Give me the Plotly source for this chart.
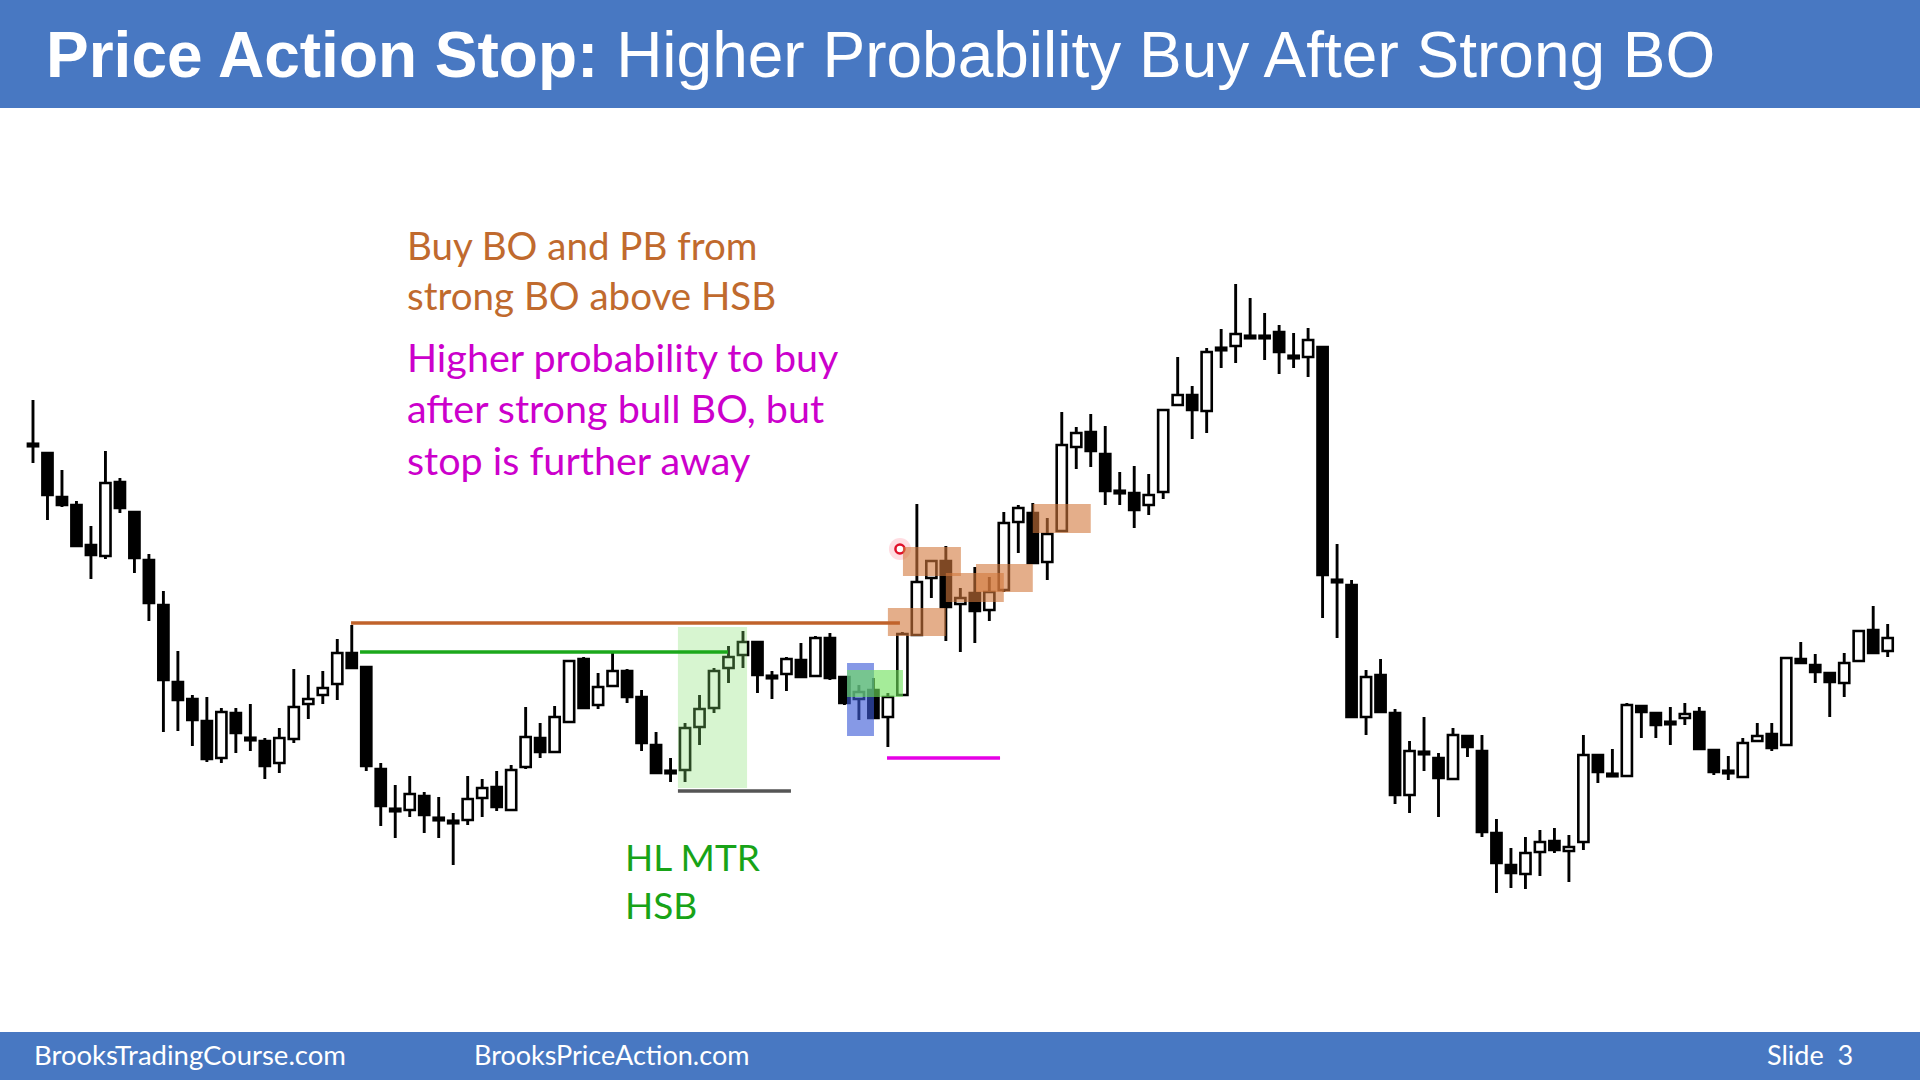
import plotly.graph_objects as go

# ---- OHLC data (arbitrary price units) ----
opens = [555, 547, 503, 495, 455, 444, 518, 488, 440, 395, 318, 301, 279, 242, 287, 261, 259, 237, 261, 296,
         305, 316, 347, 333, 231, 190, 190, 204, 181, 178, 180, 202, 213, 190, 233, 262, 248, 278, 341, 295,
         314, 329, 303, 255, 228, 230, 273, 292, 332, 345, 358, 323, 326, 340, 324, 362, 323, 301, 310, 283,
         305, 365, 422, 439, 396, 407, 390, 410, 478, 487, 438, 469, 553, 568, 546, 508, 507, 495, 508, 595,
         605, 589, 651, 654, 663, 663, 668, 643, 643, 653, 419, 415, 283, 325, 287, 205, 247, 242, 221, 264,
         249, 167, 135, 126, 148, 159, 149, 158, 245, 225, 224, 294, 287, 277, 282, 288, 250, 228, 223, 259,
         266, 255, 341, 335, 327, 317, 339, 370, 349]
highs = [600, 547, 530, 499, 474, 549, 522, 488, 446, 409, 349, 305, 303, 292, 292, 296, 262, 272, 331, 325,
         329, 361, 375, 333, 237, 215, 224, 208, 203, 187, 224, 221, 229, 235, 293, 277, 294, 340, 343, 327,
         347, 331, 310, 268, 242, 277, 305, 332, 354, 369, 358, 329, 343, 357, 364, 367, 324, 315, 322, 307,
         368, 496, 440, 454, 412, 433, 423, 488, 495, 497, 482, 588, 573, 586, 574, 528, 534, 526, 590, 643,
         614, 652, 671, 716, 702, 687, 675, 667, 672, 653, 456, 420, 330, 341, 291, 259, 283, 247, 272, 264,
         265, 181, 152, 163, 170, 172, 165, 265, 245, 251, 297, 294, 287, 293, 297, 293, 250, 244, 262, 277,
         277, 342, 358, 346, 327, 347, 370, 394, 376]
lows = [537, 480, 493, 454, 421, 441, 487, 427, 379, 268, 269, 254, 238, 237, 247, 249, 221, 227, 257, 281,
        296, 300, 331, 229, 174, 162, 183, 167, 162, 135, 175, 183, 189, 189, 231, 242, 248, 278, 291, 291,
        313, 297, 249, 226, 218, 218, 255, 287, 317, 332, 307, 301, 309, 323, 323, 320, 295, 280, 282, 253,
        304, 365, 402, 359, 348, 357, 379, 408, 447, 437, 420, 469, 531, 533, 495, 495, 472, 485, 501, 594,
        561, 567, 632, 637, 663, 640, 626, 632, 623, 382, 362, 282, 265, 287, 196, 187, 229, 183, 220, 243,
        163, 107, 112, 111, 124, 147, 118, 150, 217, 223, 223, 262, 262, 255, 275, 251, 225, 220, 222, 258,
        249, 254, 337, 317, 283, 303, 338, 347, 343]
closes = [555, 505, 495, 454, 445, 517, 492, 442, 397, 320, 300, 280, 241, 288, 267, 261, 234, 262, 293, 301,
          312, 347, 332, 234, 194, 190, 206, 185, 181, 178, 201, 212, 193, 230, 263, 248, 283, 339, 292, 313,
          329, 303, 257, 227, 228, 272, 291, 329, 343, 358, 325, 323, 341, 323, 362, 322, 297, 308, 282, 303,
          366, 418, 439, 393, 402, 389, 408, 477, 492, 437, 466, 555, 567, 549, 509, 508, 490, 505, 590, 605,
          590, 648, 651, 666, 663, 663, 648, 643, 660, 425, 419, 283, 323, 288, 205, 249, 247, 222, 265, 253,
          168, 137, 127, 147, 158, 150, 153, 245, 228, 225, 295, 288, 275, 277, 286, 251, 228, 228, 257, 264,
          252, 342, 337, 328, 318, 337, 369, 347, 362]

bar_index = list(range(len(opens)))

# ---- derived drawing values ----
MIN_BODY = 2.5
body_base, body_height, body_color = [], [], []
for o, c in zip(opens, closes):
    lo, hi = min(o, c), max(o, c)
    h = hi - lo
    if h < MIN_BODY:
        mid = (lo + hi) / 2
        lo, h = mid - MIN_BODY / 2, MIN_BODY
    body_base.append(lo)
    body_height.append(h)
    body_color.append("white" if c > o else "black")

wick_height = [h - l for h, l in zip(highs, lows)]

fig = go.Figure()

# wicks
fig.add_trace(go.Bar(
    x=bar_index, y=wick_height, base=lows, width=0.2,
    marker=dict(color="black", line=dict(width=0)),
    hoverinfo="skip", showlegend=False))

# bodies
fig.add_trace(go.Bar(
    x=bar_index, y=body_height, base=body_base, width=0.7,
    marker=dict(color=body_color, line=dict(color="black", width=2.6)),
    customdata=list(zip(opens, highs, lows, closes)),
    hovertemplate="O %{customdata[0]}<br>H %{customdata[1]}<br>L %{customdata[2]}<br>C %{customdata[3]}<extra></extra>",
    showlegend=False))

# cursor highlight dot
fig.add_trace(go.Scatter(x=[59.83], y=[451], mode="markers",
                         marker=dict(size=22, color="rgba(255,120,140,0.25)"),
                         hoverinfo="skip", showlegend=False))
fig.add_trace(go.Scatter(x=[59.83], y=[451], mode="markers",
                         marker=dict(size=9, color="white", line=dict(color="#E0102A", width=2.5)),
                         hoverinfo="skip", showlegend=False))

BLUE = "#4878C2"
shapes = [
    # header and footer bands
    dict(type="rect", xref="paper", yref="paper", x0=0, x1=1, y0=0.9, y1=1,
         fillcolor=BLUE, line=dict(width=0), layer="above"),
    dict(type="rect", xref="paper", yref="paper", x0=0, x1=1, y0=0, y1=0.0444,
         fillcolor=BLUE, line=dict(width=0), layer="above"),
    # HSB highlight
    dict(type="rect", x0=44.51, x1=49.28, y0=212, y1=373,
         fillcolor="rgb(130,225,110)", opacity=0.32, line=dict(width=0), layer="above"),
    # blue signal bar box
    dict(type="rect", x0=56.18, x1=58.04, y0=264, y1=337,
         fillcolor="rgb(60,90,215)", opacity=0.62, line=dict(width=0), layer="above"),
    # green box
    dict(type="rect", x0=56.18, x1=60.04, y0=303, y1=330,
         fillcolor="rgb(110,225,90)", opacity=0.62, line=dict(width=0), layer="above"),
    # tan boxes
    dict(type="rect", x0=59.0, x1=63.0, y0=364, y1=392,
         fillcolor="rgb(210,120,60)", opacity=0.6, line=dict(width=0), layer="above"),
    dict(type="rect", x0=60.04, x1=64.04, y0=424, y1=453,
         fillcolor="rgb(210,120,60)", opacity=0.6, line=dict(width=0), layer="above"),
    dict(type="rect", x0=63.0, x1=67.0, y0=398, y1=427,
         fillcolor="rgb(210,120,60)", opacity=0.6, line=dict(width=0), layer="above"),
    dict(type="rect", x0=65.08, x1=69.0, y0=408, y1=436,
         fillcolor="rgb(210,120,60)", opacity=0.6, line=dict(width=0), layer="above"),
    dict(type="rect", x0=69.0, x1=73.0, y0=467, y1=496,
         fillcolor="rgb(210,120,60)", opacity=0.6, line=dict(width=0), layer="above"),
    # lines
    dict(type="line", x0=21.95, x1=59.83, y0=377, y1=377, line=dict(color="#C0622A", width=3.5)),
    dict(type="line", x0=22.57, x1=47.96, y0=348, y1=348, line=dict(color="#1BA81B", width=3.5)),
    dict(type="line", x0=44.51, x1=52.31, y0=209, y1=209, line=dict(color="#555555", width=3.5)),
    dict(type="line", x0=58.94, x1=66.74, y0=242, y1=242, line=dict(color="#E600E6", width=3.5)),
]

annotations = [
    dict(xref="paper", yref="paper", x=44 / 1920, y=1 - 55 / 1080, xanchor="left", yanchor="middle",
         text="<b>Price Action Stop:</b> Higher Probability Buy After Strong BO",
         showarrow=False, font=dict(family="Liberation Sans, Arial", size=64, color="white")),
    dict(xref="paper", yref="paper", x=32 / 1920, y=1 - 1054 / 1080, xanchor="left", yanchor="middle",
         text="BrooksTradingCourse.com", showarrow=False,
         font=dict(family="Lato", size=27.5, color="white")),
    dict(xref="paper", yref="paper", x=472 / 1920, y=1 - 1054 / 1080, xanchor="left", yanchor="middle",
         text="BrooksPriceAction.com", showarrow=False,
         font=dict(family="Lato", size=27, color="white")),
    dict(xref="paper", yref="paper", x=1765 / 1920, y=1 - 1054 / 1080, xanchor="left", yanchor="middle",
         text="Slide  3", showarrow=False,
         font=dict(family="Lato", size=27, color="white")),
    dict(xref="paper", yref="paper", x=405 / 1920, y=1 - 270 / 1080, xanchor="left", yanchor="middle",
         align="left", text="Buy BO and PB from<br>strong BO above HSB", showarrow=False,
         font=dict(family="Lato", size=38.5, color="#C06A2E")),
    dict(xref="paper", yref="paper", x=405 / 1920, y=1 - 408 / 1080, xanchor="left", yanchor="middle",
         align="left", text="Higher probability to buy<br>after strong bull BO, but<br>stop is further away",
         showarrow=False, font=dict(family="Lato", size=39.5, color="#CC00CC")),
    dict(xref="paper", yref="paper", x=623 / 1920, y=1 - 880 / 1080, xanchor="left", yanchor="middle",
         align="left", text="HL MTR<br>HSB", showarrow=False,
         font=dict(family="Lato", size=37, color="#18A318")),
]

fig.update_layout(
    width=1920, height=1080,
    margin=dict(l=0, r=0, t=0, b=0),
    paper_bgcolor="white", plot_bgcolor="white",
    barmode="overlay",
    xaxis=dict(range=[-2.277, 130.23], visible=False, fixedrange=True),
    yaxis=dict(range=[-80, 1000], visible=False, fixedrange=True),
    shapes=shapes, annotations=annotations,
    showlegend=False,
)

fig.write_html("out.html", config={"displayModeBar": False})
